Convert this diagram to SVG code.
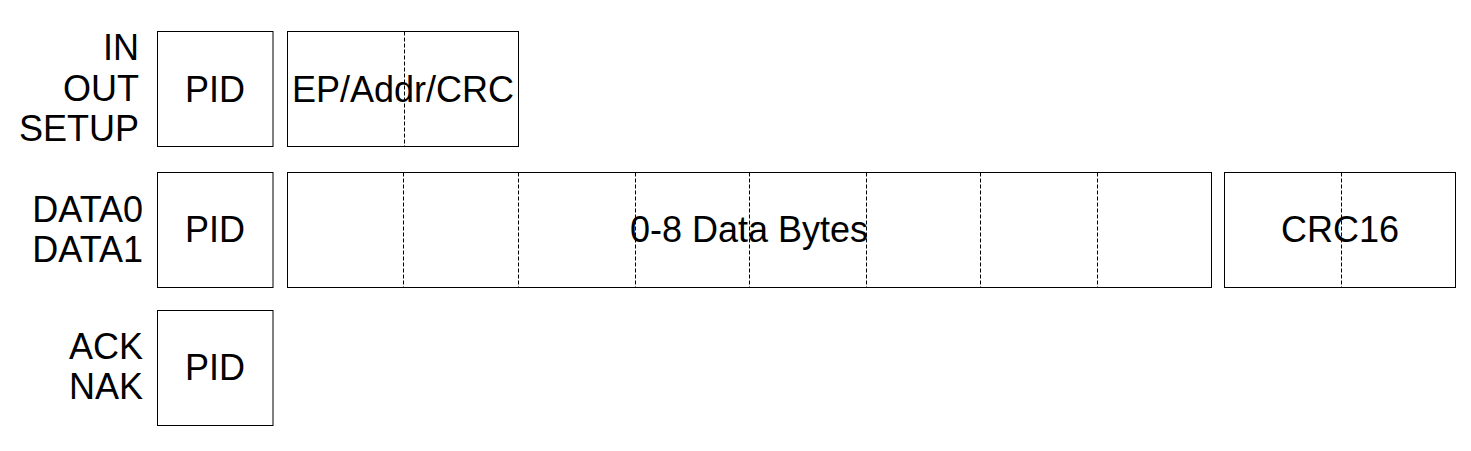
<svg xmlns="http://www.w3.org/2000/svg" width="1471" height="451" viewBox="0 0 1471 451">
<style>
.box{fill:#fff;stroke:#000;stroke-width:1}
.div{stroke:#000;stroke-width:1;stroke-dasharray:4,2;fill:none}
.t{font-family:"Liberation Sans",Arial,sans-serif;font-size:36px;fill:#000}
.m{text-anchor:middle}
.r{text-anchor:end}
</style>
<rect width="1471" height="451" fill="#fff"/>
<g id="labels">
<text class="t r" x="139" y="60">IN</text>
<text class="t r" x="139" y="101">OUT</text>
<text class="t r" x="139" y="141">SETUP</text>
<text class="t r" x="143" y="222">DATA0</text>
<text class="t r" x="143" y="262">DATA1</text>
<text class="t r" x="143" y="359">ACK</text>
<text class="t r" x="143" y="399">NAK</text>
</g>
<g id="token-pid">
<rect class="box" x="157.5" y="31.5" width="115.5" height="115"/>
<text class="t m" x="215" y="102">PID</text>
</g>
<g id="token-addr">
<rect class="box" x="287.5" y="31.5" width="231" height="115"/>
<line class="div" x1="404.5" y1="31.5" x2="404.5" y2="146.5"/>
<text class="t m" x="403" y="102">EP/Addr/CRC</text>
</g>
<g id="data-pid">
<rect class="box" x="157.5" y="172.5" width="115.5" height="115"/>
<text class="t m" x="215" y="242">PID</text>
</g>
<g id="data-bytes">
<rect class="box" x="287.5" y="172.5" width="924" height="115"/>
<line class="div" x1="403.5" y1="172.5" x2="403.5" y2="287.5"/>
<line class="div" x1="518.5" y1="172.5" x2="518.5" y2="287.5"/>
<line class="div" x1="635.5" y1="172.5" x2="635.5" y2="287.5"/>
<line class="div" x1="749.5" y1="172.5" x2="749.5" y2="287.5"/>
<line class="div" x1="866.5" y1="172.5" x2="866.5" y2="287.5"/>
<line class="div" x1="980.5" y1="172.5" x2="980.5" y2="287.5"/>
<line class="div" x1="1097.5" y1="172.5" x2="1097.5" y2="287.5"/>
<text class="t m" x="749" y="242">0-8 Data Bytes</text>
</g>
<g id="crc16">
<rect class="box" x="1224.5" y="172.5" width="231" height="115"/>
<line class="div" x1="1341.5" y1="172.5" x2="1341.5" y2="287.5"/>
<text class="t m" x="1340" y="242">CRC16</text>
</g>
<g id="handshake-pid">
<rect class="box" x="157.5" y="310.5" width="115.5" height="115"/>
<text class="t m" x="215" y="380">PID</text>
</g>
</svg>
